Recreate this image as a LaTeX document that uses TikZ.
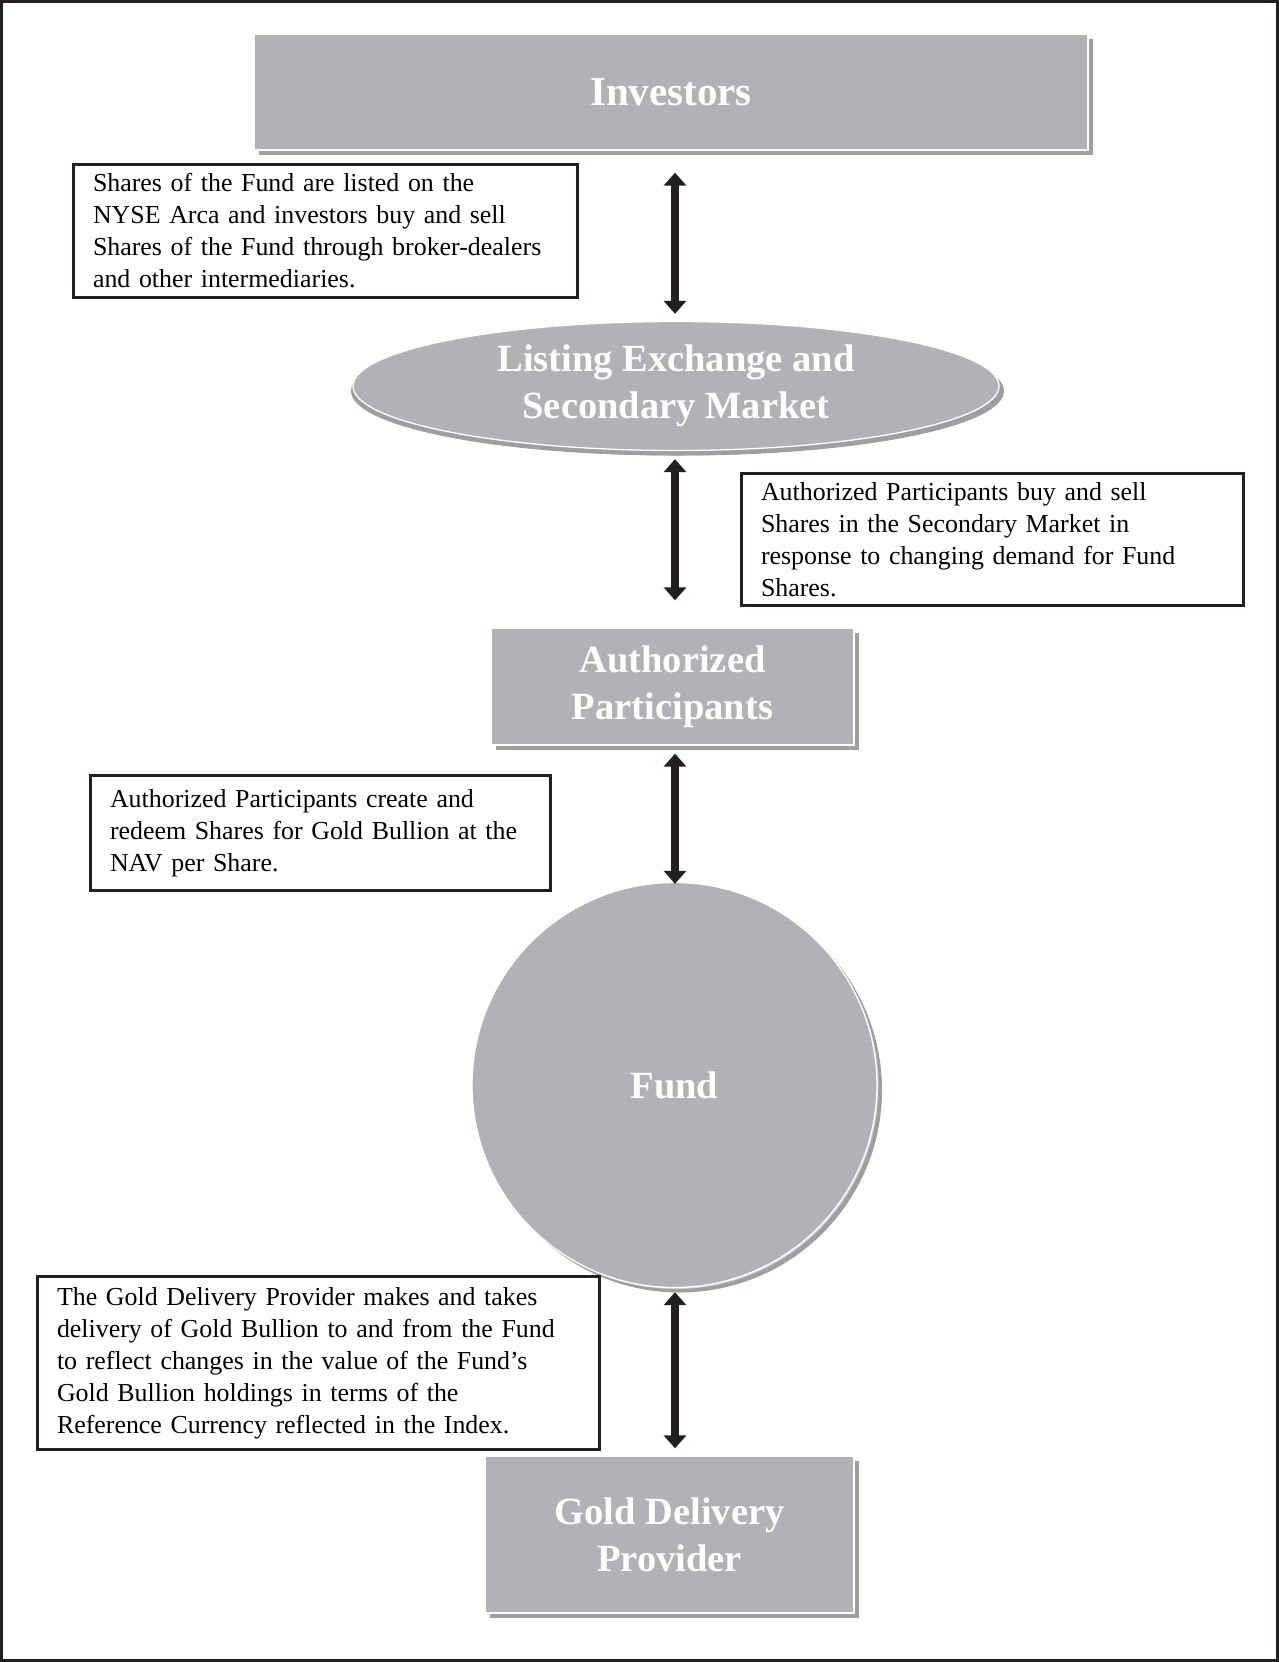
\documentclass[tikz,border=0pt]{standalone}
\usepackage{fontspec}
\setmainfont{Liberation Serif}
\usetikzlibrary{shapes.geometric,shadows,arrows.meta,calc}
\definecolor{boxgray}{RGB}{177,178,182}
\definecolor{shadgray}{RGB}{158,159,162}
\definecolor{ink}{RGB}{35,31,32}
\begin{document}
\begin{tikzpicture}[x=1pt,y=-1pt,
  titlebox/.style={fill=boxgray, draw=white, line width=1.3pt, text=white,
    font=\fontsize{38.5}{47}\selectfont\bfseries, align=center, inner sep=0pt,
    drop shadow={shadow xshift=5pt, shadow yshift=-5pt, fill=shadgray, opacity=1}},
  notebox/.style={draw=ink, line width=3pt, fill=white,
    font=\fontsize{25.9}{32}\selectfont, align=left, inner xsep=19.5pt, inner ysep=0pt},
  link/.style={draw=ink, line width=7.2pt,
    {Triangle[width=22pt,length=13pt]}-{Triangle[width=22pt,length=13pt]}}
]
\useasboundingbox (0,0) rectangle (1279,1662);
\draw[ink, line width=3pt] (1.5,1.5) rectangle (1277.5,1660.5);
\coordinate (col) at (675,0);

% main shapes
\node[titlebox, minimum width=834pt, minimum height=116pt,
  font=\fontsize{41}{47}\selectfont\bfseries] (inv) at (671,92) {Investors};
\node[titlebox, ellipse, minimum width=646pt, minimum height=129pt,
  drop shadow={shadow xshift=-2pt, shadow yshift=-5pt, fill=shadgray, opacity=1}] (lem) at (676,386)
  {Listing Exchange and\\ Secondary Market};
\node[titlebox, minimum width=363pt, minimum height=117pt] (ap) at (672.5,686.5)
  {Authorized\\ Participants};
\node[titlebox, circle, minimum size=405pt,
  drop shadow={shadow xshift=1.5pt, shadow yshift=-1.5pt, fill=shadgray!50, opacity=1}] (fund) at (674.5,1085) {Fund};
\node[titlebox, minimum width=369pt, minimum height=157pt] (gdp) at (669.5,1534.5)
  {Gold Delivery\\ Provider};

% explanatory notes
\node[notebox, text width=465pt, minimum height=133pt] (n1) at (325.5,231)
  {Shares of the Fund are listed on the\\ NYSE Arca and investors buy and sell\\ Shares of the Fund through broker-dealers\\ and other intermediaries.};
\node[notebox, text width=463pt, minimum height=132pt] (n2) at (992.5,539.5)
  {Authorized Participants buy and sell\\ Shares in the Secondary Market in\\ response to changing demand for Fund\\ Shares.};
\node[notebox, text width=421pt, minimum height=115pt] (n3) at (320.5,833)
  {Authorized Participants create and\\ redeem Shares for Gold Bullion at the\\ NAV per Share.};
\node[notebox, text width=523pt, minimum height=173pt] (n4) at (318.5,1363)
  {The Gold Delivery Provider makes and takes\\ delivery of Gold Bullion to and from the Fund\\ to reflect changes in the value of the Fund’s\\ Gold Bullion holdings in terms of the\\ Reference Currency reflected in the Index.};

% connectors
\draw[link, shorten <=22pt, shorten >=7pt] (inv.south -| col) -- (lem.north -| col);
\draw[link, shorten <=8pt, shorten >=27pt] (lem.south -| col) -- (ap.north -| col);
\draw[link, shorten <=8pt, shorten >=-2pt] (ap.south -| col) -- (fund.north -| col);
\draw[link, shorten <=4pt, shorten >=7pt] (fund.south -| col) -- (gdp.north -| col);
\end{tikzpicture}
\end{document}
